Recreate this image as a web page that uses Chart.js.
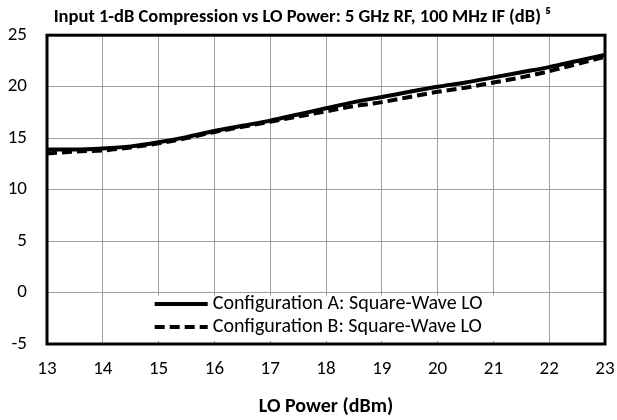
<!DOCTYPE html>
<html>
<head>
<meta charset="utf-8">
<script src="https://cdn.jsdelivr.net/npm/chart.js@4"></script>
<style>
html, body { margin: 0; background: #fff; }
#wrap { width: 617px; height: 420px; }
</style>
</head>
<body>
<div id="wrap"><canvas id="chart"></canvas></div>
<script>
const loPower = [13, 13.5, 14, 14.5, 15, 15.5, 16, 16.5, 17, 17.5, 18, 18.5, 19, 19.5, 20, 20.5, 21, 21.5, 22, 22.5, 23];
const configA = [13.9, 13.9, 14.0, 14.2, 14.6, 15.1, 15.7, 16.2, 16.7, 17.3, 17.9, 18.5, 19.0, 19.5, 20.0, 20.4, 20.9, 21.4, 21.9, 22.5, 23.1];
const configB = [13.5, 13.7, 13.8, 14.1, 14.5, 15.0, 15.6, 16.1, 16.6, 17.1, 17.6, 18.1, 18.5, 19.0, 19.5, 19.9, 20.4, 20.9, 21.5, 22.2, 22.9];
const seriesLabels = ['Configuration A: Square-Wave LO', 'Configuration B: Square-Wave LO'];
const titleText = 'Input 1-dB Compression vs LO Power: 5 GHz RF, 100 MHz IF (dB) \u2075';
const xTitle = 'LO Power (dBm)';

const FONT = 'Carlito, Lato, "Open Sans", sans-serif';

function points(ys) {
	return loPower.map((x, i) => ({ x, y: ys[i] }));
}

// legend sits inside the plot, over the lower band, on a white box
const insideLegend = {
	id: 'insideLegend',
	afterDatasetsDraw(chart) {
		const { ctx } = chart;
		const xs = chart.scales.x, ys = chart.scales.y;
		const left = xs.getPixelForValue(14.15), right = xs.getPixelForValue(21.8);
		const top = ys.getPixelForValue(-0.3), bottom = ys.getPixelForValue(-4.7);
		ctx.save();
		ctx.fillStyle = '#fff';
		ctx.fillRect(left, top, right - left, bottom - top);
		const rows = [-1.12, -3.35];
		chart.data.datasets.forEach((ds, i) => {
			const ly = ys.getPixelForValue(rows[i]);
			ctx.beginPath();
			ctx.strokeStyle = ds.borderColor;
			ctx.lineWidth = 4;
			ctx.setLineDash(ds.borderDash || []);
			ctx.moveTo(xs.getPixelForValue(14.93), ly);
			ctx.lineTo(xs.getPixelForValue(15.88), ly);
			ctx.stroke();
			ctx.setLineDash([]);
			ctx.fillStyle = '#000';
			ctx.font = '20px ' + FONT;
			ctx.textBaseline = 'middle';
			ctx.fillText(ds.label, xs.getPixelForValue(15.97), ly);
		});
		// heavy frame round the plot
		const a = chart.chartArea;
		ctx.strokeStyle = '#000';
		ctx.lineWidth = 3;
		ctx.strokeRect(a.left, a.top, a.right - a.left, a.bottom - a.top);
		ctx.restore();
	}
};

new Chart(document.getElementById('chart'), {
	type: 'scatter',
	data: {
		datasets: [{
			label: seriesLabels[0],
			data: points(configA),
			borderColor: '#000',
			borderWidth: 4,
			showLine: true,
			pointRadius: 0,
			cubicInterpolationMode: 'monotone'
		}, {
			label: seriesLabels[1],
			data: points(configB),
			borderColor: '#000',
			borderWidth: 4,
			borderDash: [10, 5],
			showLine: true,
			pointRadius: 0,
			cubicInterpolationMode: 'monotone'
		}]
	},
	options: {
		responsive: true,
		maintainAspectRatio: false,
		animation: false,
		layout: { padding: { left: 0, right: 12, top: 0, bottom: 0 } },
		plugins: {
			legend: { display: false },
			tooltip: { enabled: false },
			title: {
				display: true,
				text: titleText,
				color: '#000',
				font: { family: FONT, size: 18.5, weight: 'bold' },
				padding: { top: 6, bottom: 7 }
			}
		},
		scales: {
			x: {
				type: 'linear',
				min: 13,
				max: 23,
				ticks: { stepSize: 1, color: '#000', padding: 14, font: { family: FONT, size: 19 } },
				grid: { color: '#a0a0a0', lineWidth: 1, drawTicks: false },
				border: { display: false },
				title: {
					display: true,
					text: xTitle,
					color: '#000',
					font: { family: FONT, size: 20, weight: 'bold' },
					padding: { top: 0, bottom: 1 }
				},
				afterFit: s => { s.height = 76; s.paddingLeft = 0; s.paddingRight = 0; }
			},
			y: {
				min: -5,
				max: 25,
				ticks: { stepSize: 5, color: '#000', padding: 20, font: { family: FONT, size: 19 } },
				grid: { color: '#a0a0a0', lineWidth: 1, drawTicks: false },
				border: { display: false },
				afterFit: s => { s.width = 47; s.paddingTop = 0; s.paddingBottom = 0; }
			}
		}
	},
	plugins: [insideLegend]
});
</script>
</body>
</html>
